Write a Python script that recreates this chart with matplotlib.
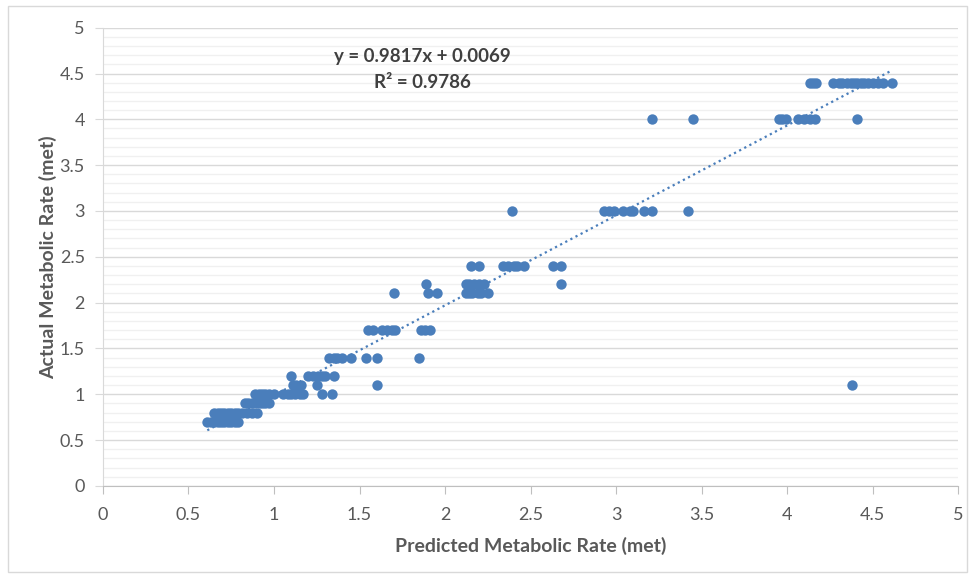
import numpy as np
import matplotlib.pyplot as plt
from matplotlib.patches import Rectangle
from matplotlib.ticker import MultipleLocator

# predicted values grouped by the (discrete) actual metabolic rate
rows = {
    0.7: [0.61, 0.63, 0.65, 0.67, 0.69, 0.71, 0.73, 0.75, 0.77, 0.79],
    0.8: [0.65, 0.67, 0.69, 0.71, 0.73, 0.75, 0.77, 0.79, 0.81, 0.84, 0.87, 0.90],
    0.9: [0.83, 0.85, 0.87, 0.89, 0.91, 0.93, 0.95, 0.97],
    1.0: [0.89, 0.91, 0.93, 0.95, 0.97, 1.00, 1.05, 1.08, 1.10, 1.12, 1.15,
          1.17, 1.28, 1.34],
    1.1: [1.11, 1.13, 1.16, 1.25, 1.60, 4.38],
    1.2: [1.10, 1.20, 1.23, 1.26, 1.28, 1.30, 1.35],
    1.4: [1.32, 1.35, 1.37, 1.40, 1.45, 1.54, 1.60, 1.85],
    1.7: [1.55, 1.58, 1.63, 1.66, 1.69, 1.71, 1.86, 1.88, 1.91],
    2.1: [1.70, 1.90, 1.95, 2.12, 2.14, 2.16, 2.19, 2.21, 2.25],
    2.2: [1.89, 2.12, 2.14, 2.17, 2.20, 2.23, 2.68],
    2.4: [2.15, 2.20, 2.34, 2.37, 2.40, 2.42, 2.46, 2.63, 2.68],
    3.0: [2.39, 2.93, 2.96, 2.99, 3.04, 3.08, 3.10, 3.16, 3.21, 3.42],
    4.0: [3.21, 3.45, 3.95, 3.97, 3.99, 4.06, 4.10, 4.13, 4.16, 4.41],
    4.4: [4.13, 4.15, 4.17, 4.27, 4.30, 4.32, 4.35, 4.37, 4.39, 4.41, 4.43,
          4.45, 4.47, 4.50, 4.53, 4.56, 4.61],
}
slope = 0.9817
intercept = 0.0069
r_squared = 0.9786

predicted = np.array([x for xs in rows.values() for x in xs])
actual = np.array([y for y, xs in rows.items() for _ in xs])

BLUE = "#4a7ebb"
GRAY = "#595959"
plt.rcParams["font.family"] = ["Lato", "DejaVu Sans"]

fig = plt.figure(figsize=(9.71, 5.77), dpi=100)
ax = fig.add_axes([0.106, 0.158, 0.881, 0.794])

ax.scatter(predicted, actual, s=56, color=BLUE, zorder=3, linewidths=0)

xs = np.array([predicted.min(), predicted.max()])
ax.plot(xs, slope * xs + intercept, color=BLUE, lw=1.6, ls=(0, (1, 1.6)), zorder=2)

ax.set_xlim(0, 5)
ax.set_ylim(0, 5)
ax.xaxis.set_major_locator(MultipleLocator(0.5))
ax.yaxis.set_major_locator(MultipleLocator(0.5))
ax.yaxis.set_minor_locator(MultipleLocator(0.1))
ax.set_xticklabels([f"{v:g}" for v in ax.get_xticks()])
ax.set_yticklabels([f"{v:g}" for v in ax.get_yticks()])

ax.grid(axis="y", which="major", color="#d9d9d9", lw=1.0, zorder=0)
ax.grid(axis="y", which="minor", color="#f0f0f0", lw=1.0, zorder=0)
ax.set_axisbelow(True)

for side in ["top", "right"]:
    ax.spines[side].set_visible(False)
ax.spines["left"].set_color("#d9d9d9")
ax.spines["bottom"].set_color("#bfbfbf")
ax.tick_params(axis="x", which="major", length=6, color="#bfbfbf",
               labelcolor=GRAY, labelsize=13, pad=9)
ax.tick_params(axis="y", which="major", length=6, color="#d9d9d9",
               labelcolor=GRAY, labelsize=13, pad=7)
ax.tick_params(axis="y", which="minor", length=0)

ax.set_xlabel("Predicted Metabolic Rate (met)", fontsize=14, fontweight="bold",
              color=GRAY, labelpad=10)
ax.set_ylabel("Actual Metabolic Rate (met)", fontsize=14, fontweight="bold",
              color=GRAY, labelpad=2)

ax.text(1.87, 4.69, f"y = {slope}x + {intercept}", fontsize=13.5, fontweight="bold",
        color="#404040", ha="center", va="center")
ax.text(1.87, 4.4, f"R\u00b2 = {r_squared}", fontsize=13.5, fontweight="bold",
        color="#404040", ha="center", va="center")

fig.patches.append(Rectangle((0.008, 0.008), 0.988, 0.982, transform=fig.transFigure,
                             fill=False, edgecolor="#d9d9d9", lw=1.0))

plt.savefig("out.png", dpi=100)
plt.close()
